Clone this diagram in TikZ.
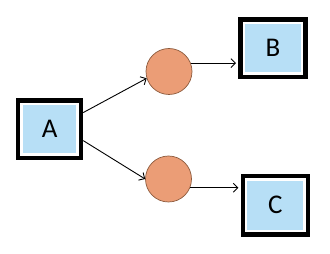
\documentclass[tikz,border=0pt]{standalone}
\usepackage{fontspec}
\setmainfont{Carlito}
\usetikzlibrary{arrows.meta}
\definecolor{boxblue}{RGB}{183,223,246}
\definecolor{nodeorange}{RGB}{235,157,118}
\definecolor{nodeedge}{RGB}{140,90,60}
\tikzset{
  letterbox/.style={draw=black, line width=4.4pt, fill=white, rectangle, inner sep=0pt,
    font=\fontsize{27}{30}\selectfont,
    path picture={\fill[boxblue] ([shift={(4.6pt,4.6pt)}]path picture bounding box.south west) rectangle ([shift={(-4.6pt,-4.6pt)}]path picture bounding box.north east);}},
  dot/.style={circle, draw=nodeedge, line width=0.7pt, fill=nodeorange, minimum size=46pt, inner sep=0pt},
  link/.style={draw=black, line width=0.9pt, -{Straight Barb[length=4.5pt,width=9pt,line width=0.9pt]}}
}
\begin{document}
\begin{tikzpicture}[x=1pt,y=1pt]
\useasboundingbox (0,0) rectangle (330,254);
\node[letterbox, minimum width=62.8pt, minimum height=57.3pt] (A) at (49.6,124.9) {A};
\node[letterbox, minimum width=65pt, minimum height=57.3pt] (B) at (273,205.9) {B};
\node[letterbox, minimum width=65pt, minimum height=58.3pt] (C) at (275.3,48.7) {C};
\node[dot] (c1) at (169,182.5) {};
\node[dot] (c2) at (168.5,75) {};
\draw[link] ([yshift=16.5pt]A.east) -- (c1.197);
\draw[link] ([yshift=-11.5pt]A.east) -- (c2.180);
\draw[link, shorten >=2.2pt] (c1.21) -- (c1.21 -| B.west);
\draw[link, shorten >=2.2pt] (c2.338) -- (c2.338 -| C.west);
\end{tikzpicture}
\end{document}
